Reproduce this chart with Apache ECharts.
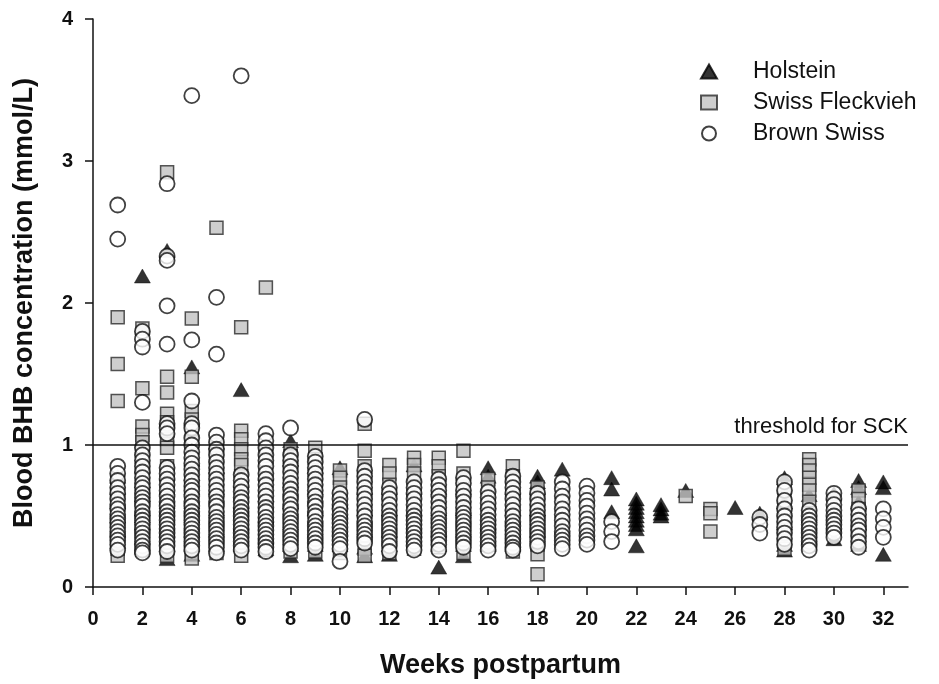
<!DOCTYPE html>
<html>
<head>
<meta charset="utf-8">
<script src="https://cdn.jsdelivr.net/npm/echarts@6/dist/echarts.min.js"></script>
<style>
  html, body { margin: 0; padding: 0; background: #fff; }
  #chart { width: 939px; height: 684px; }
</style>
</head>
<body>
<div id="chart"></div>
<script>
// each row: [week, value, value, ...]  (mmol/L)
const holsteinRows = [
  [1, 0.78, 0.70, 0.60, 0.50, 0.40, 0.32],
  [2, 2.19, 0.85, 0.75, 0.65, 0.55, 0.50, 0.45, 0.35, 0.28],
  [3, 2.37, 0.80, 0.70, 0.60, 0.50, 0.40, 0.30, 0.20],
  [4, 1.55, 0.90, 0.80, 0.70, 0.60, 0.50, 0.40, 0.30, 0.23],
  [5, 1.02, 0.85, 0.70, 0.55, 0.40, 0.30],
  [6, 1.39, 0.75, 0.60, 0.45, 0.30],
  [7, 0.80, 0.65, 0.50, 0.35, 0.27],
  [8, 1.03, 0.90, 0.75, 0.60, 0.45, 0.30, 0.22],
  [9, 0.85, 0.70, 0.55, 0.40, 0.30, 0.23],
  [10, 0.84, 0.60, 0.45, 0.30],
  [11, 0.70, 0.55, 0.40, 0.28, 0.22],
  [12, 0.70, 0.55, 0.40, 0.30, 0.23],
  [13, 0.86, 0.70, 0.55, 0.40],
  [14, 0.70, 0.55, 0.40, 0.30, 0.14],
  [15, 0.70, 0.55, 0.40, 0.30, 0.22],
  [16, 0.84, 0.78, 0.60, 0.45, 0.30],
  [17, 0.70, 0.55, 0.40, 0.30],
  [18, 0.78, 0.74, 0.70, 0.55, 0.40],
  [19, 0.83],
  [21, 0.77, 0.69, 0.53],
  [22, 0.62, 0.59, 0.56, 0.53, 0.50, 0.47, 0.44, 0.41, 0.29],
  [23, 0.58, 0.55, 0.52, 0.50],
  [24, 0.68],
  [26, 0.56],
  [27, 0.52],
  [28, 0.77, 0.60, 0.45, 0.30, 0.26],
  [29, 0.65, 0.50, 0.35],
  [30, 0.66, 0.50, 0.34],
  [31, 0.75, 0.70, 0.60, 0.45, 0.30],
  [32, 0.74, 0.70, 0.23]
];

const fleckviehRows = [
  [1, 1.90, 1.57, 1.31, 0.75, 0.70, 0.65, 0.60, 0.55, 0.50, 0.45, 0.40, 0.35, 0.31, 0.27, 0.22],
  [2, 1.82, 1.40, 1.13, 1.07, 1.02, 0.95, 0.88, 0.80, 0.72, 0.64, 0.56, 0.48, 0.40, 0.32, 0.26],
  [3, 2.92, 1.48, 1.37, 1.22, 1.16, 1.10, 1.04, 0.98, 0.85, 0.75, 0.65, 0.55, 0.45, 0.35, 0.28, 0.22],
  [4, 1.89, 1.48, 1.24, 1.18, 1.10, 1.02, 0.90, 0.80, 0.70, 0.60, 0.50, 0.40, 0.30, 0.24, 0.20],
  [5, 2.53, 1.00, 0.90, 0.80, 0.70, 0.60, 0.50, 0.40, 0.30, 0.24],
  [6, 1.83, 1.10, 1.04, 0.97, 0.90, 0.86, 0.78, 0.70, 0.60, 0.50, 0.40, 0.30, 0.22],
  [7, 2.11, 0.95, 0.85, 0.75, 0.65, 0.55, 0.45, 0.35, 0.26],
  [8, 0.97, 0.92, 0.85, 0.75, 0.65, 0.55, 0.45, 0.35, 0.25],
  [9, 0.98, 0.90, 0.80, 0.70, 0.60, 0.50, 0.40, 0.30, 0.25],
  [10, 0.82, 0.77, 0.70, 0.60, 0.50, 0.40, 0.30, 0.24],
  [11, 1.15, 0.96, 0.85, 0.75, 0.65, 0.55, 0.45, 0.35, 0.27, 0.22],
  [12, 0.86, 0.80, 0.72, 0.62, 0.52, 0.42, 0.32, 0.24],
  [13, 0.91, 0.86, 0.80, 0.70, 0.60, 0.50, 0.40, 0.30, 0.27],
  [14, 0.91, 0.85, 0.78, 0.68, 0.58, 0.48, 0.38, 0.28],
  [15, 0.96, 0.80, 0.70, 0.60, 0.50, 0.40, 0.30, 0.24],
  [16, 0.76, 0.70, 0.60, 0.50, 0.40, 0.30],
  [17, 0.85, 0.78, 0.70, 0.60, 0.50, 0.40, 0.30, 0.25],
  [18, 0.70, 0.60, 0.50, 0.40, 0.30, 0.23, 0.09],
  [24, 0.64],
  [25, 0.55, 0.52, 0.39],
  [28, 0.70, 0.60, 0.50, 0.40, 0.32, 0.27],
  [29, 0.90, 0.86, 0.82, 0.77, 0.72, 0.68, 0.60, 0.52, 0.44, 0.36, 0.30],
  [31, 0.68, 0.62, 0.55, 0.45, 0.35]
];

const brownSwissRows = [
  [1, 2.69, 2.45, 0.85, 0.80, 0.75, 0.70, 0.66, 0.62, 0.58, 0.55, 0.51, 0.48, 0.45, 0.42, 0.39, 0.36, 0.33, 0.30, 0.26],
  [2, 1.80, 1.745, 1.69, 1.30, 0.98, 0.93, 0.89, 0.85, 0.81, 0.77, 0.73, 0.70, 0.66, 0.63, 0.60, 0.57, 0.53, 0.50, 0.47, 0.44, 0.41, 0.38, 0.35, 0.32, 0.29, 0.26, 0.24],
  [3, 2.84, 2.33, 2.30, 1.98, 1.71, 1.15, 1.12, 1.08, 0.84, 0.80, 0.76, 0.72, 0.68, 0.64, 0.60, 0.57, 0.53, 0.50, 0.47, 0.44, 0.41, 0.38, 0.35, 0.32, 0.29, 0.25],
  [4, 3.46, 1.74, 1.31, 1.15, 1.12, 1.05, 1.00, 0.95, 0.91, 0.87, 0.83, 0.79, 0.75, 0.71, 0.68, 0.64, 0.60, 0.57, 0.53, 0.50, 0.47, 0.44, 0.41, 0.38, 0.35, 0.32, 0.29, 0.26],
  [5, 2.04, 1.64, 1.07, 1.02, 0.97, 0.93, 0.88, 0.84, 0.80, 0.76, 0.72, 0.68, 0.64, 0.60, 0.57, 0.53, 0.49, 0.46, 0.43, 0.40, 0.37, 0.34, 0.31, 0.28, 0.24],
  [6, 3.60, 0.79, 0.75, 0.71, 0.67, 0.63, 0.60, 0.56, 0.53, 0.50, 0.47, 0.44, 0.41, 0.38, 0.35, 0.32, 0.29, 0.26],
  [7, 1.08, 1.03, 0.98, 0.93, 0.89, 0.85, 0.80, 0.76, 0.72, 0.68, 0.64, 0.60, 0.56, 0.53, 0.49, 0.46, 0.43, 0.40, 0.37, 0.34, 0.31, 0.28, 0.25],
  [8, 1.12, 0.93, 0.89, 0.85, 0.81, 0.77, 0.73, 0.69, 0.65, 0.62, 0.58, 0.55, 0.51, 0.48, 0.45, 0.42, 0.39, 0.36, 0.33, 0.30, 0.27],
  [9, 0.92, 0.88, 0.84, 0.80, 0.76, 0.72, 0.68, 0.64, 0.60, 0.57, 0.53, 0.50, 0.46, 0.43, 0.40, 0.37, 0.34, 0.31, 0.28],
  [10, 0.66, 0.62, 0.58, 0.55, 0.51, 0.48, 0.45, 0.42, 0.39, 0.36, 0.33, 0.30, 0.27, 0.18],
  [11, 1.18, 0.82, 0.78, 0.74, 0.70, 0.66, 0.62, 0.58, 0.54, 0.50, 0.46, 0.43, 0.40, 0.37, 0.34, 0.31],
  [12, 0.70, 0.66, 0.62, 0.58, 0.54, 0.50, 0.47, 0.44, 0.41, 0.38, 0.35, 0.32, 0.29, 0.25],
  [13, 0.74, 0.70, 0.66, 0.62, 0.58, 0.54, 0.50, 0.47, 0.44, 0.41, 0.38, 0.35, 0.32, 0.29, 0.26],
  [14, 0.76, 0.72, 0.68, 0.64, 0.60, 0.56, 0.52, 0.48, 0.45, 0.42, 0.39, 0.36, 0.33, 0.30, 0.26],
  [15, 0.77, 0.73, 0.68, 0.64, 0.60, 0.56, 0.52, 0.49, 0.46, 0.43, 0.40, 0.37, 0.34, 0.31, 0.28],
  [16, 0.67, 0.63, 0.59, 0.55, 0.51, 0.47, 0.44, 0.41, 0.38, 0.35, 0.32, 0.29, 0.26],
  [17, 0.78, 0.74, 0.70, 0.66, 0.62, 0.58, 0.54, 0.50, 0.46, 0.43, 0.40, 0.37, 0.34, 0.31, 0.28, 0.26],
  [18, 0.66, 0.62, 0.58, 0.54, 0.50, 0.47, 0.44, 0.41, 0.38, 0.35, 0.32, 0.29],
  [19, 0.74, 0.69, 0.64, 0.60, 0.55, 0.51, 0.47, 0.43, 0.39, 0.36, 0.33, 0.30, 0.27],
  [20, 0.71, 0.66, 0.61, 0.57, 0.52, 0.48, 0.44, 0.40, 0.36, 0.33, 0.30],
  [21, 0.46, 0.39, 0.32],
  [27, 0.49, 0.44, 0.38],
  [28, 0.74, 0.68, 0.61, 0.55, 0.50, 0.46, 0.42, 0.38, 0.34, 0.30],
  [29, 0.54, 0.50, 0.47, 0.44, 0.41, 0.38, 0.35, 0.32, 0.29, 0.26],
  [30, 0.66, 0.62, 0.58, 0.54, 0.50, 0.47, 0.44, 0.41, 0.38, 0.35],
  [31, 0.55, 0.51, 0.47, 0.43, 0.40, 0.36, 0.32, 0.28],
  [32, 0.55, 0.48, 0.42, 0.35]
];

const weekTicks = [0, 2, 4, 6, 8, 10, 12, 14, 16, 18, 20, 22, 24, 26, 28, 30, 32];
const threshold = 1;

// rows -> [week, value] points
function toPoints(rows) {
  const pts = [];
  rows.forEach(r => {
    r.slice(1).forEach(v => pts.push([r[0], v]));
  });
  return pts;
}

const font = "'Liberation Sans', Arial, sans-serif";
const chart = echarts.init(document.getElementById('chart'));

chart.setOption({
  animation: false,
  backgroundColor: '#fff',
  textStyle: { fontFamily: font },
  grid: { left: 93, right: 31, top: 19, bottom: 96 },
  legend: {
    orient: 'vertical',
    left: 695,
    top: 55,
    itemWidth: 16,
    itemHeight: 14,
    itemGap: 8,
    textStyle: { fontSize: 23, color: '#111', fontFamily: font, padding: [0, 0, 0, 31], lineHeight: 23 },
    data: [
      { name: 'Holstein', icon: 'triangle' },
      { name: 'Swiss Fleckvieh', icon: 'rect' },
      { name: 'Brown Swiss', icon: 'circle' }
    ]
  },
  xAxis: {
    type: 'value',
    min: 0,
    max: 33,
    name: 'Weeks postpartum',
    nameLocation: 'middle',
    nameGap: 65,
    nameTextStyle: { fontSize: 27, fontWeight: 'bold', color: '#111', fontFamily: font },
    axisLine: { lineStyle: { color: '#111', width: 1.5 } },
    axisTick: { show: true, length: 8, lineStyle: { color: '#111', width: 1.5 }, customValues: weekTicks },
    axisLabel: { fontSize: 20, fontWeight: 'bold', color: '#111', margin: 22, customValues: weekTicks },
    splitLine: { show: false }
  },
  yAxis: {
    type: 'value',
    min: 0,
    max: 4,
    interval: 1,
    name: 'Blood BHB concentration (mmol/L)',
    nameLocation: 'middle',
    nameGap: 55,
    nameTextStyle: { fontSize: 27, fontWeight: 'bold', color: '#111', fontFamily: font },
    axisLine: { show: true, lineStyle: { color: '#111', width: 1.5 } },
    axisTick: { show: true, length: 8, lineStyle: { color: '#111', width: 1.5 } },
    axisLabel: { fontSize: 20, fontWeight: 'bold', color: '#111', margin: 20 },
    splitLine: { show: false }
  },
  series: [
    {
      name: 'Holstein',
      type: 'scatter',
      symbol: 'triangle',
      symbolSize: [16, 14],
      itemStyle: { color: '#000', borderColor: '#000', borderWidth: 0.5 },
      data: toPoints(holsteinRows)
    },
    {
      name: 'Swiss Fleckvieh',
      type: 'scatter',
      symbol: 'rect',
      symbolSize: 13,
      itemStyle: { color: '#c2c2c2', borderColor: '#2a2a2a', borderWidth: 1.5 },
      data: toPoints(fleckviehRows)
    },
    {
      name: 'Brown Swiss',
      type: 'scatter',
      symbol: 'circle',
      symbolSize: 15,
      itemStyle: { color: '#fff', borderColor: '#111', borderWidth: 1.8 },
      data: toPoints(brownSwissRows),
      markLine: {
        silent: true,
        symbol: 'none',
        lineStyle: { color: '#111', width: 1.5, type: 'solid' },
        label: {
          show: true,
          position: 'insideEndTop',
          formatter: 'threshold for SCK',
          fontSize: 22,
          color: '#111',
          fontFamily: font,
          distance: [0, 7]
        },
        data: [{ yAxis: threshold }]
      }
    }
  ]
});
</script>
</body>
</html>
